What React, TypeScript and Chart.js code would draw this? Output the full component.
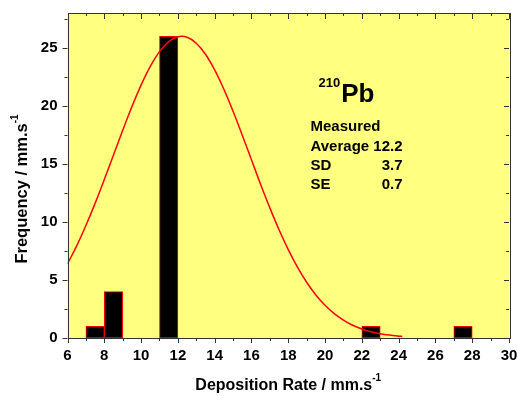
import React, { useEffect, useRef } from "react";
import { Chart, registerables } from "chart.js";

Chart.register(...registerables);

// Histogram bins (bin centres) and counts
const binCenters = [7.5, 8.5, 11.5, 22.5, 27.5];
const binCounts = [1, 4, 26, 1, 1];

// Fitted normal curve
const curveX = [6, 6.5, 7, 7.5, 8, 8.5, 9, 9.5, 10, 10.5, 11, 11.5, 12, 12.5, 13, 13.5, 14, 14.5, 15, 15.5, 16, 16.5, 17, 17.5, 18, 18.5, 19, 19.5, 20, 20.5, 21, 21.5, 22, 22.5, 23, 23.5, 24, 24.2];
const curveY = [6.39, 7.94, 9.69, 11.6, 13.65, 15.77, 17.89, 19.92, 21.79, 23.4, 24.67, 25.54, 25.96, 25.91, 25.4, 24.45, 23.1, 21.43, 19.53, 17.47, 15.35, 13.23, 11.21, 9.32, 7.61, 6.1, 4.8, 3.71, 2.82, 2.1, 1.54, 1.1, 0.78, 0.54, 0.37, 0.25, 0.16, 0.135];

// Axis ranges / ticks
const xMin = 6, xMax = 30, xStep = 2, xMinorStep = 1;
const yMin = 0, yMax = 28, yStep = 5, yMinorStep = 2.5;

const xTitle = "Deposition Rate / mm.s";
const yTitle = "Frequency / mm.s";
const titleSup = "-1";
const isotopeSup = "210";
const isotopeName = "Pb";
const statsLabels = ["Measured", "Average", "SD", "SE"];
const statsValues = ["", "12.2", "3.7", "0.7"];

const FONT = "'Liberation Sans', Arial, sans-serif";

const decorPlugin = {
  id: "decor",
  beforeDraw(chart: any) {
    const { ctx, chartArea: a } = chart;
    ctx.save();
    ctx.fillStyle = "#ffff80";
    ctx.fillRect(a.left, a.top, a.right - a.left, a.bottom - a.top);
    ctx.restore();
  },
  afterDraw(chart: any) {
    const { ctx, chartArea: a } = chart;
    const xs = chart.scales.x;
    const ys = chart.scales.y;
    ctx.save();
    ctx.strokeStyle = "#333333";
    ctx.lineWidth = 1;
    ctx.strokeRect(Math.round(a.left) + 0.5, Math.round(a.top) + 0.5, Math.round(a.right - a.left), Math.round(a.bottom - a.top));
    ctx.beginPath();
    for (let v = xMin; v <= xMax + 1e-9; v += xMinorStep) {
      const px = Math.round(xs.getPixelForValue(v)) + 0.5;
      const major = Math.abs((v - xMin) % xStep) < 1e-9;
      const lb = major ? 5 : 3;
      const lt = major ? 6 : 3;
      ctx.moveTo(px, a.bottom);
      ctx.lineTo(px, a.bottom + lb);
      ctx.moveTo(px, a.top);
      ctx.lineTo(px, a.top + lt);
    }
    for (let v = yMin; v <= yMax + 1e-9; v += yMinorStep) {
      const py = Math.round(ys.getPixelForValue(v)) + 0.5;
      const major = Math.abs((v - yMin) % yStep) < 1e-9;
      const l = major ? 5 : 3;
      ctx.moveTo(a.left - l, py);
      ctx.lineTo(a.left, py);
      ctx.moveTo(a.right, py);
      ctx.lineTo(a.right - l, py);
    }
    ctx.stroke();

    // axis titles with superscripts
    ctx.fillStyle = "#000";
    ctx.textBaseline = "alphabetic";
    const drawSupTitle = (main: string, sup: string, cx: number, cy: number, size: number) => {
      ctx.font = `bold ${size}px ${FONT}`;
      const wm = ctx.measureText(main).width;
      ctx.font = `bold 10px ${FONT}`;
      const ws = ctx.measureText(sup).width;
      const x0 = cx - (wm + ws) / 2;
      ctx.font = `bold ${size}px ${FONT}`;
      ctx.fillText(main, x0, cy);
      ctx.font = `bold 10px ${FONT}`;
      ctx.fillText(sup, x0 + wm, cy - 9);
    };
    drawSupTitle(xTitle, titleSup, (a.left + a.right) / 2, 390, 16);
    ctx.save();
    ctx.translate(27, 189);
    ctx.rotate(-Math.PI / 2);
    drawSupTitle(yTitle, titleSup, 0, 0, 16.5);
    ctx.restore();

    // annotation
    const tx = a.left + 243;
    ctx.font = `bold 13px ${FONT}`;
    ctx.textAlign = "left";
    ctx.fillText(isotopeSup, a.left + 251, 87);
    const w210 = ctx.measureText(isotopeSup).width;
    ctx.font = `bold 26px ${FONT}`;
    ctx.fillText(isotopeName, a.left + 252 + w210, 102);
    ctx.font = `bold 15px ${FONT}`;
    const baselines = [131, 151, 170, 189];
    statsLabels.forEach((lab, i) => {
      ctx.textAlign = "left";
      ctx.fillText(lab, tx, baselines[i]);
      if (statsValues[i]) {
        ctx.textAlign = "right";
        ctx.fillText(statsValues[i], a.left + 335, baselines[i]);
      }
    });
    ctx.restore();
  },
};

export default function App() {
  const ref = useRef<HTMLCanvasElement>(null);
  useEffect(() => {
    document.body.style.margin = "0";
    const chart = new Chart(ref.current as HTMLCanvasElement, {
      type: "bar",
      data: {
        datasets: [
          {
            type: "line",
            data: curveX.map((x, i) => ({ x, y: curveY[i] })),
            borderColor: "#ff0000",
            borderWidth: 1.5,
            pointRadius: 0,
            tension: 0.4,
            fill: false,
            order: 0,
          } as any,
          {
            type: "bar",
            data: binCenters.map((x, i) => ({ x, y: binCounts[i] })),
            backgroundColor: "#000000",
            borderColor: "#ff0000",
            borderWidth: 1,
            borderSkipped: false,
            barPercentage: 1,
            categoryPercentage: 1,
            grouped: false,
            order: 1,
          } as any,
        ],
      },
      plugins: [decorPlugin],
      options: {
        animation: false,
        responsive: false,
        maintainAspectRatio: false,
        layout: { padding: { top: 13, right: 8, left: 0, bottom: 0 } },
        plugins: { legend: { display: false }, tooltip: { enabled: false } },
        scales: {
          x: {
            type: "linear",
            min: xMin,
            max: xMax,
            offset: false,
            ticks: { stepSize: xStep, padding: 9, color: "#000", font: { family: FONT, size: 15, weight: "bold" } },
            grid: { display: false, drawTicks: false },
            border: { display: false },
            afterFit: (s: any) => { s.height = 58; s.paddingLeft = 0; s.paddingRight = 0; },
          },
          y: {
            type: "linear",
            min: yMin,
            max: yMax,
            ticks: {
              stepSize: yStep,
              padding: 10,
              color: "#000",
              font: { family: FONT, size: 15, weight: "bold" },
              callback: (v: any) => (v % yStep === 0 ? String(v) : ""),
            },
            grid: { display: false, drawTicks: false },
            border: { display: false },
            afterFit: (s: any) => { s.width = 67.5; s.paddingTop = 0; s.paddingBottom = 0; },
          },
        },
      } as any,
    });
    return () => chart.destroy();
  }, []);
  return <canvas ref={ref} width={517} height={396} style={{ display: "block" }} />;
}
